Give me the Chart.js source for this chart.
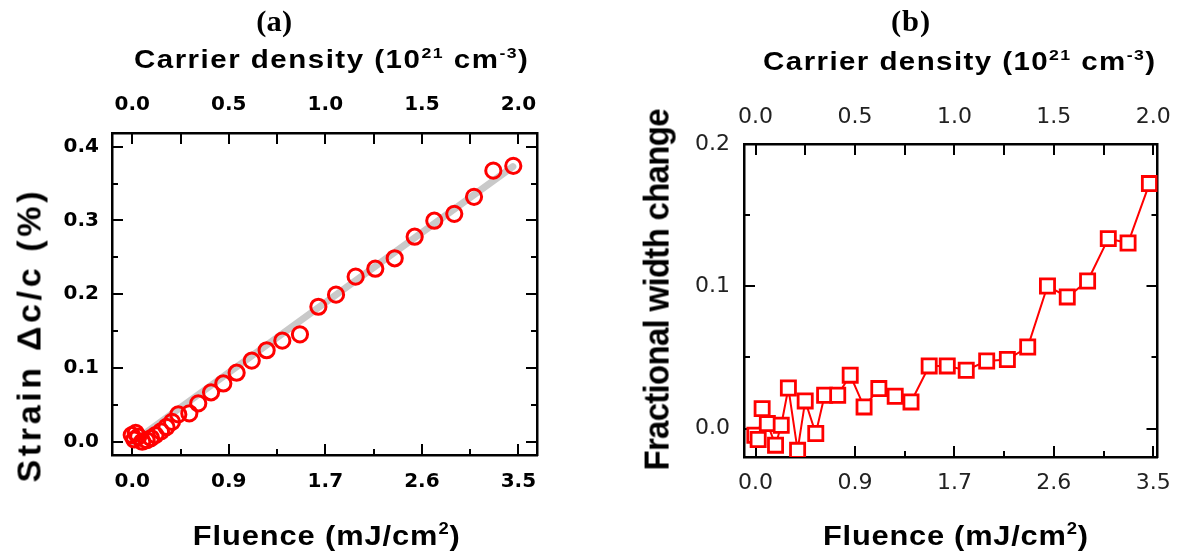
<!DOCTYPE html>
<html><head><meta charset="utf-8">
<script src="https://cdn.jsdelivr.net/npm/chart.js@4.4.0/dist/chart.umd.min.js"></script>
<style>
html,body{margin:0;padding:0;background:#fff;width:1185px;height:558px;overflow:hidden;}
.panel{position:absolute;top:0;height:558px;}
#pa{left:0;width:600px} #pb{left:600px;width:585px}
.t{position:absolute;left:0;top:0;white-space:nowrap;line-height:1;color:#000;font-family:"Liberation Sans",Arial,sans-serif;font-weight:bold;}
.t sup{font-size:0.6em;position:relative;top:-0.66em;vertical-align:baseline;line-height:0}
.lab{font-family:"Liberation Serif","Times New Roman",serif;}
</style></head>
<body>
<div class="panel" id="pa"><canvas id="ca"></canvas></div>
<div class="panel" id="pb"><canvas id="cb"></canvas></div>
<div class="t lab" id="labA" style="font-size:29px">(a)</div>
<div class="t lab" id="labB" style="font-size:29px">(b)</div>
<div class="t" id="topA" style="font-size:25px">Carrier density (10<sup>21</sup> cm<sup>-3</sup>)</div>
<div class="t" id="topB" style="font-size:25px">Carrier density (10<sup>21</sup> cm<sup>-3</sup>)</div>
<div class="t" id="botA" style="font-size:28px">Fluence (mJ/cm<sup>2</sup>)</div>
<div class="t" id="botB" style="font-size:28px">Fluence (mJ/cm<sup>2</sup>)</div>
<div class="t" id="yA" style="font-size:34px">Strain Δc/c (%)</div>
<div class="t" id="yB" style="font-size:33px">Fractional width change</div>
<script>
// ---------- data ----------
const fluenceTickLabels = ['0.0', '0.9', '1.7', '2.6', '3.5'];
const densityTickLabels = ['0.0', '0.5', '1.0', '1.5', '2.0'];
const strainTickLabels = ['0.0', '0.1', '0.2', '0.3', '0.4'];
const widthTickLabels = ['0.0', '0.1', '0.2'];

// panel (a): strain vs fluence
const fluenceA = [-0.005, 0.018, 0.031, 0.054, 0.09, 0.13, 0.17, 0.21, 0.26, 0.31, 0.36, 0.417,
  0.517, 0.598, 0.714, 0.825, 0.946, 1.083, 1.218, 1.360, 1.520, 1.687, 1.847, 2.025, 2.203,
  2.379, 2.560, 2.738, 2.919, 3.098, 3.273, 3.454];
const strainA = [0.009, 0.003, 0.012, 0.007, 0.0, 0.002, 0.005, 0.009, 0.014, 0.020, 0.027, 0.037,
  0.0385, 0.052, 0.067, 0.079, 0.0936, 0.110, 0.124, 0.137, 0.1456, 0.183, 0.1994, 0.2238, 0.2346,
  0.2487, 0.278, 0.2997, 0.309, 0.332, 0.3675, 0.374];
// linear fit (grey line)
const fitFluence = [0.0, 3.45];
const fitStrain = [-0.001, 0.373];

// panel (b): fractional width change vs fluence
const fluenceB = [-0.006, 0.023, 0.058, 0.104, 0.176, 0.226, 0.289, 0.370, 0.437, 0.530, 0.608,
  0.723, 0.833, 0.955, 1.085, 1.229, 1.368, 1.528, 1.687, 1.854, 2.034, 2.216, 2.395, 2.569,
  2.743, 2.922, 3.104, 3.278, 3.466];
const widthB = [-0.0047, -0.0077, 0.014, 0.0035, -0.0117, 0.0023, 0.0285, -0.0153, 0.0194, -0.0035,
  0.0234, 0.0234, 0.0375, 0.0152, 0.0281, 0.0227, 0.0187, 0.044, 0.044, 0.041, 0.0475, 0.0485,
  0.0573, 0.1002, 0.0925, 0.1037, 0.1335, 0.1304, 0.1722];

const fluenceMax = 3.5, densityMax = 2.0;
const toDensity = f => f * densityMax / fluenceMax;

// ---------- helpers ----------
function majorsOf(labels, max) { return labels.map((_, i) => i * max / (labels.length - 1)); }
function withMinors(majors) {
  const out = [];
  majors.forEach((m, i) => { out.push(m); if (i < majors.length - 1) out.push((m + majors[i + 1]) / 2); });
  return out;
}
function labelFor(v, majors, labels) {
  for (let i = 0; i < majors.length; i++) if (Math.abs(v - majors[i]) < 1e-9) return labels[i];
  return '';
}
function axis(o) {
  const values = withMinors(o.majors);
  return {
    type: 'linear', axis: o.axis, position: o.position, min: o.min, max: o.max,
    afterBuildTicks: s => { s.ticks = values.map(v => ({ value: v })); },
    afterFit: s => { if (o.axis === 'x') s.height = o.size; else s.width = o.size; },
    ticks: {
      display: !!o.labels, autoSkip: false, maxRotation: 0, minRotation: 0,
      padding: o.pad || 0, color: o.color || '#000', font: o.font,
      callback: v => o.labels ? labelFor(v, o.majors, o.labels) : ''
    },
    grid: { display: false, drawTicks: false },
    border: { display: true, color: '#000', width: 2.5 }
  };
}

const innerTicks = {
  id: 'innerTicks',
  beforeDatasetsDraw(chart) {
    const o = chart.options.plugins.innerTicks;
    const ctx = chart.ctx, a = chart.chartArea;
    ctx.save();
    ctx.strokeStyle = '#000'; ctx.lineWidth = 2;
    for (const id of ['x', 'x2', 'y', 'y2']) {
      const sc = chart.scales[id];
      const majors = o.majors[id];
      sc.ticks.forEach(t => {
        const isMajor = majors.some(m => Math.abs(m - t.value) < 1e-9);
        const L = isMajor ? o.major : (id === 'x2' ? o.major : o.minor);
        const p = Math.round(sc.getPixelForValue(t.value));
        ctx.beginPath();
        if (id === 'x') { ctx.moveTo(p, a.bottom); ctx.lineTo(p, a.bottom - L); }
        else if (id === 'x2') { ctx.moveTo(p, a.top); ctx.lineTo(p, a.top + L); }
        else if (id === 'y') { ctx.moveTo(a.left, p); ctx.lineTo(a.left + L, p); }
        else { ctx.moveTo(a.right, p); ctx.lineTo(a.right - L, p); }
        ctx.stroke();
      });
    }
    ctx.restore();
  }
};

Chart.defaults.font.family = '"DejaVu Sans", "Liberation Sans", sans-serif';
const fluenceMajors = majorsOf(fluenceTickLabels, fluenceMax);
const densityMajors = majorsOf(densityTickLabels, densityMax);
const strainMajors = majorsOf(strainTickLabels, 0.4);
const widthMajors = majorsOf(widthTickLabels, 0.2);

// ---------- chart (a) ----------
const fontA = { family: '"DejaVu Sans", sans-serif', size: 20, weight: 'bold', lineHeight: 1.2 };
const xMinA = -0.184, xMaxA = 3.669;
new Chart(document.getElementById('ca'), {
  type: 'scatter',
  data: {
    datasets: [
      { data: fluenceA.map((x, i) => ({ x, y: strainA[i] })), showLine: false, order: 1,
        pointStyle: 'circle', pointRadius: 7.6, pointHoverRadius: 7.6, pointBorderWidth: 3,
        borderColor: '#ff0000', pointBorderColor: '#ff0000', pointBackgroundColor: 'rgba(0,0,0,0)' },
      { data: fitFluence.map((x, i) => ({ x, y: fitStrain[i] })), showLine: true, order: 2,
        borderColor: '#c9c9c9', borderWidth: 7, pointRadius: 0, borderCapStyle: 'round' }
    ]
  },
  options: {
    responsive: true, maintainAspectRatio: false, animation: false, devicePixelRatio: 1,
    layout: { padding: 0 },
    plugins: { legend: { display: false }, tooltip: { enabled: false },
      innerTicks: { major: 11, minor: 6,
        majors: { x: fluenceMajors, x2: densityMajors, y: strainMajors, y2: strainMajors } } },
    scales: {
      x: axis({ axis: 'x', position: 'bottom', min: xMinA, max: xMaxA, majors: fluenceMajors, labels: fluenceTickLabels, size: 103, pad: 15, font: fontA }),
      x2: axis({ axis: 'x', position: 'top', min: toDensity(xMinA), max: toDensity(xMaxA), majors: densityMajors, labels: densityTickLabels, size: 133, pad: 16, font: fontA }),
      y: axis({ axis: 'y', position: 'left', min: -0.018, max: 0.4186, majors: strainMajors, labels: strainTickLabels, size: 112, pad: 13, font: fontA }),
      y2: axis({ axis: 'y', position: 'right', min: -0.018, max: 0.4186, majors: strainMajors, labels: null, size: 63, font: fontA })
    }
  },
  plugins: [innerTicks]
});

// ---------- chart (b) ----------
const fontB = { family: '"DejaVu Sans", sans-serif', size: 22, weight: 'normal', lineHeight: 1.2 };
const xMinB = -0.1016, xMaxB = 3.537;
new Chart(document.getElementById('cb'), {
  type: 'scatter',
  data: {
    datasets: [
      { data: fluenceB.map((x, i) => ({ x, y: widthB[i] })), showLine: true,
        borderColor: '#ff0000', borderWidth: 2,
        pointStyle: 'rect', pointRadius: 10, pointHoverRadius: 10, pointBorderWidth: 2.8,
        pointBorderColor: '#ff0000', pointBackgroundColor: '#ffffff' }
    ]
  },
  options: {
    responsive: true, maintainAspectRatio: false, animation: false, devicePixelRatio: 1,
    layout: { padding: 0 },
    plugins: { legend: { display: false }, tooltip: { enabled: false },
      innerTicks: { major: 11, minor: 6,
        majors: { x: fluenceMajors, x2: densityMajors, y: widthMajors, y2: widthMajors } } },
    scales: {
      x: axis({ axis: 'x', position: 'bottom', min: xMinB, max: xMaxB, majors: fluenceMajors, labels: fluenceTickLabels, size: 101, pad: 13, font: fontB, color: '#222' }),
      x2: axis({ axis: 'x', position: 'top', min: toDensity(xMinB), max: toDensity(xMaxB), majors: densityMajors, labels: densityTickLabels, size: 144, pad: 14, font: fontB, color: '#222' }),
      y: axis({ axis: 'y', position: 'left', min: -0.02, max: 0.2, majors: widthMajors, labels: widthTickLabels, size: 144, pad: 14, font: fontB, color: '#222' }),
      y2: axis({ axis: 'y', position: 'right', min: -0.02, max: 0.2, majors: widthMajors, labels: null, size: 22, font: fontB })
    }
  },
  plugins: [innerTicks]
});

// ---------- titles (real text, fitted to their spans) ----------
function fitText(id, cx, cy, target, k, rotate) {
  const el = document.getElementById(id);
  el.style.letterSpacing = '0px';
  const w0 = el.getBoundingClientRect().width;
  const n = el.textContent.length;
  const along = rotate ? 1 : k;
  const s = (target / along - w0) / (n - 1);
  el.style.letterSpacing = s + 'px';
  const r = el.getBoundingClientRect();
  const vis = r.width - s, h = r.height;
  el.style.left = (cx - vis / 2) + 'px';
  el.style.top = (cy - h / 2) + 'px';
  el.style.transformOrigin = (vis / 2) + 'px ' + (h / 2) + 'px';
  el.style.transform = rotate ? 'rotate(-90deg) scaleY(' + k + ')' : 'scaleX(' + k + ')';
}
fitText('labA', 274, 21, 36, 1.05, false);
fitText('labB', 911, 21, 39, 1.05, false);
fitText('topA', 331, 59, 394, 1.18, false);
fitText('topB', 959, 61, 392, 1.18, false);
fitText('botA', 326, 536, 267, 1.1, false);
fitText('botB', 955, 536, 265, 1.1, false);
fitText('yA', 28, 337, 291, 1.0, true);
fitText('yB', 657, 289, 362, 1.05, true);
</script>
</body></html>
